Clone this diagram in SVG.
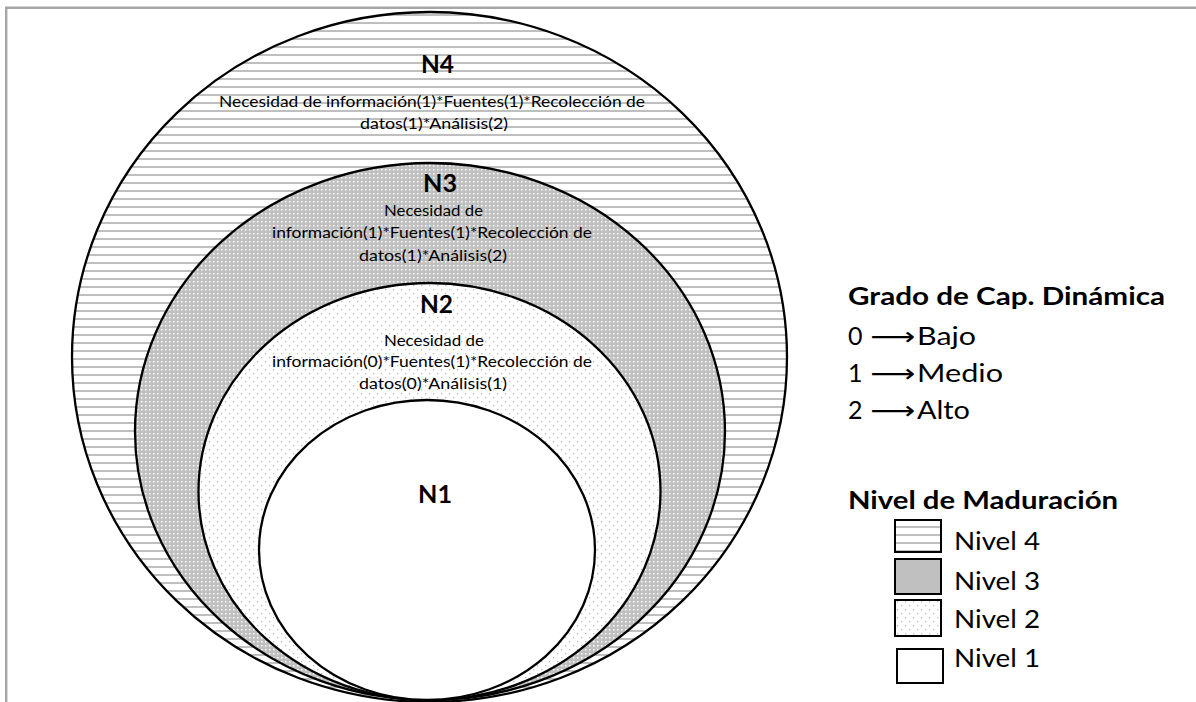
<svg xmlns="http://www.w3.org/2000/svg" width="1196" height="702" viewBox="0 0 1196 702">
<style>
.ring{stroke:#000;stroke-width:2.3}
.lbl{font-family:Lato,"Liberation Sans",Arial,sans-serif;font-weight:bold;font-size:24px;fill:#000}
.txt{font-family:Lato,"Liberation Sans",Arial,sans-serif;font-size:16px;fill:#000}
.lg{font-family:Lato,"Liberation Sans",Arial,sans-serif;font-size:25px;fill:#000}
.lgb{font-family:Lato,"Liberation Sans",Arial,sans-serif;font-size:25px;font-weight:bold;fill:#000}
.arr{font-family:"DejaVu Sans",sans-serif;font-size:25px;fill:#000}
.box{stroke:#000;stroke-width:2}
</style>
<defs>
<pattern id="hstripe" width="8" height="8" patternUnits="userSpaceOnUse">
<rect width="8" height="8" fill="#fff"/><rect y="6" width="8" height="2" fill="#bfbfbf"/>
</pattern>
<pattern id="gdots" width="4" height="4" patternUnits="userSpaceOnUse">
<rect width="4" height="4" fill="#c0c0c0"/><rect x="1" y="1" width="1.5" height="1.5" fill="#fff"/>
</pattern>
<pattern id="ldots" width="8" height="8" patternUnits="userSpaceOnUse">
<rect width="8" height="8" fill="#fff"/><rect x="1" y="1" width="1.3" height="1.3" fill="#bdbdbd"/><rect x="5" y="5" width="1.3" height="1.3" fill="#bdbdbd"/>
</pattern>
</defs>
<rect width="1196" height="702" fill="#fff"/>
<path d="M6.2,702 V7.8 H1196" fill="none" stroke="#a6a6a6" stroke-width="2.4"/>

<g id="n4">
<ellipse class="ring" cx="429.5" cy="357" rx="357.5" ry="345" fill="url(#hstripe)"/>
<text class="lbl" x="421" y="73" textLength="33" lengthAdjust="spacingAndGlyphs">N4</text>
<text class="txt" x="219" y="107" textLength="426" lengthAdjust="spacingAndGlyphs">Necesidad de información(1)*Fuentes(1)*Recolección de</text>
<text class="txt" x="360" y="129" textLength="148" lengthAdjust="spacingAndGlyphs">datos(1)*Análisis(2)</text>
</g>

<g id="n3">
<ellipse class="ring" cx="430" cy="431.5" rx="295" ry="268.5" fill="url(#gdots)"/>
<text class="lbl" x="423" y="192" textLength="34" lengthAdjust="spacingAndGlyphs">N3</text>
<text class="txt" x="384" y="216" textLength="99" lengthAdjust="spacingAndGlyphs">Necesidad de</text>
<text class="txt" x="272" y="238" textLength="320" lengthAdjust="spacingAndGlyphs">información(1)*Fuentes(1)*Recolección de</text>
<text class="txt" x="359" y="261" textLength="148" lengthAdjust="spacingAndGlyphs">datos(1)*Análisis(2)</text>
</g>

<g id="n2">
<ellipse class="ring" cx="429.5" cy="491.5" rx="231" ry="208.5" fill="url(#ldots)"/>
<text class="lbl" x="420" y="313" textLength="33" lengthAdjust="spacingAndGlyphs">N2</text>
<text class="txt" x="384" y="346" textLength="100" lengthAdjust="spacingAndGlyphs">Necesidad de</text>
<text class="txt" x="272" y="367" textLength="320" lengthAdjust="spacingAndGlyphs">información(0)*Fuentes(1)*Recolección de</text>
<text class="txt" x="359" y="389" textLength="148" lengthAdjust="spacingAndGlyphs">datos(0)*Análisis(1)</text>
</g>

<g id="n1">
<ellipse class="ring" cx="427" cy="550" rx="168" ry="150" fill="#fff"/>
<text class="lbl" x="418" y="503" textLength="34" lengthAdjust="spacingAndGlyphs">N1</text>
</g>

<g id="legend-grado">
<text class="lgb" x="848" y="305" textLength="317" lengthAdjust="spacingAndGlyphs">Grado de Cap. Dinámica</text>
<text class="lg" x="848" y="345">0</text>
<text class="arr" x="870" y="345" textLength="45" lengthAdjust="spacingAndGlyphs">⟶</text>
<text class="lg" x="917" y="345" textLength="59" lengthAdjust="spacingAndGlyphs">Bajo</text>
<text class="lg" x="848" y="382">1</text>
<text class="arr" x="870" y="382" textLength="45" lengthAdjust="spacingAndGlyphs">⟶</text>
<text class="lg" x="917" y="382" textLength="86" lengthAdjust="spacingAndGlyphs">Medio</text>
<text class="lg" x="848" y="419">2</text>
<text class="arr" x="870" y="419" textLength="45" lengthAdjust="spacingAndGlyphs">⟶</text>
<text class="lg" x="917" y="419" textLength="53" lengthAdjust="spacingAndGlyphs">Alto</text>
</g>

<g id="legend-nivel">
<text class="lgb" x="848" y="509" textLength="270" lengthAdjust="spacingAndGlyphs">Nivel de Maduración</text>
<rect class="box" x="895" y="520" width="46" height="32" fill="url(#hstripe)"/>
<text class="lg" x="954" y="550" textLength="86" lengthAdjust="spacingAndGlyphs">Nivel 4</text>
<rect class="box" x="895" y="559" width="46" height="35" fill="#c0c0c0"/>
<text class="lg" x="954" y="590" textLength="86" lengthAdjust="spacingAndGlyphs">Nivel 3</text>
<rect class="box" x="895" y="600" width="46" height="36" fill="url(#ldots)"/>
<text class="lg" x="954" y="628" textLength="86" lengthAdjust="spacingAndGlyphs">Nivel 2</text>
<rect class="box" x="897" y="649" width="46" height="34" fill="#fff"/>
<text class="lg" x="954" y="667" textLength="86" lengthAdjust="spacingAndGlyphs">Nivel 1</text>
</g>
</svg>
